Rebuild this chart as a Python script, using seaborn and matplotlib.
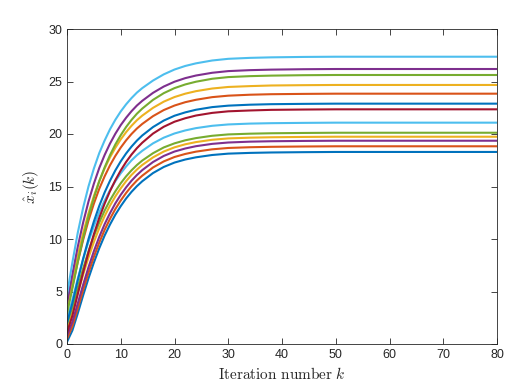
import pandas as pd
import matplotlib
matplotlib.use("Agg")
import matplotlib.pyplot as plt
import seaborn as sns

k_values = [0, 1, 2, 3, 4, 5, 6, 7, 8, 9, 10, 11, 12, 13, 14, 16, 18, 20, 22, 24,
            27, 30, 34, 38, 44, 50, 60, 80]

# Estimated state trajectories x_i(k), one list per agent
x1 = [0.2, 1.29, 2.91, 4.63, 6.26, 7.76, 9.12, 10.33, 11.38, 12.32, 13.13, 13.86, 14.49, 15.03,
      15.5, 16.28, 16.86, 17.28, 17.57, 17.78, 18, 18.13, 18.2, 18.24, 18.27, 18.29, 18.29, 18.29]
x2 = [0.5, 1.69, 3.38, 5.14, 6.79, 8.3, 9.66, 10.87, 11.92, 12.86, 13.67, 14.39, 15.02, 15.57,
      16.03, 16.81, 17.39, 17.81, 18.1, 18.32, 18.54, 18.67, 18.74, 18.78, 18.81, 18.83, 18.83, 18.83]
x3 = [1.5, 2.99, 4.82, 6.6, 8.24, 9.71, 11.03, 12.18, 13.18, 14.06, 14.83, 15.51, 16.1, 16.61,
      17.05, 17.77, 18.33, 18.73, 19.02, 19.23, 19.45, 19.58, 19.65, 19.69, 19.72, 19.74, 19.74, 19.74]
x4 = [0.8, 2.1, 3.86, 5.64, 7.31, 8.84, 10.2, 11.41, 12.46, 13.4, 14.21, 14.92, 15.55, 16.09,
      16.56, 17.33, 17.91, 18.33, 18.62, 18.84, 19.06, 19.19, 19.27, 19.31, 19.34, 19.36, 19.36, 19.36]
x5 = [1.9, 3.51, 5.39, 7.19, 8.83, 10.29, 11.58, 12.71, 13.69, 14.55, 15.31, 15.97, 16.54, 17.04,
      17.47, 18.17, 18.72, 19.11, 19.4, 19.61, 19.83, 19.96, 20.03, 20.07, 20.1, 20.12, 20.12, 20.12]
x6 = [2.4, 4.21, 6.21, 8.07, 9.75, 11.23, 12.54, 13.66, 14.65, 15.51, 16.26, 16.91, 17.49, 17.98,
      18.4, 19.11, 19.65, 20.05, 20.34, 20.56, 20.78, 20.91, 20.99, 21.03, 21.06, 21.08, 21.08, 21.08]
x7 = [1.1, 2.69, 4.76, 6.82, 8.73, 10.46, 12.01, 13.37, 14.56, 15.61, 16.53, 17.34, 18.04, 18.65,
      19.17, 20.04, 20.69, 21.17, 21.5, 21.76, 22.01, 22.16, 22.24, 22.3, 22.33, 22.35, 22.35, 22.35]
x8 = [2, 3.88, 6.05, 8.12, 10, 11.67, 13.15, 14.43, 15.55, 16.54, 17.4, 18.15, 18.8, 19.37,
      19.86, 20.66, 21.28, 21.74, 22.06, 22.31, 22.56, 22.7, 22.79, 22.84, 22.87, 22.89, 22.89, 22.89]
x9 = [3.2, 5.47, 7.81, 9.91, 11.77, 13.37, 14.78, 15.97, 17.02, 17.92, 18.71, 19.4, 20, 20.52,
      20.96, 21.7, 22.28, 22.71, 23.03, 23.26, 23.51, 23.65, 23.74, 23.79, 23.82, 23.84, 23.84, 23.84]
x10 = [3.5, 5.93, 8.38, 10.55, 12.45, 14.09, 15.52, 16.72, 17.78, 18.69, 19.49, 20.18, 20.78, 21.31,
       21.75, 22.49, 23.08, 23.52, 23.84, 24.08, 24.33, 24.48, 24.56, 24.62, 24.65, 24.67, 24.67, 24.67]
x11 = [3.9, 6.61, 9.26, 11.56, 13.57, 15.27, 16.76, 18, 19.09, 20.03, 20.85, 21.55, 22.17, 22.71,
       23.16, 23.92, 24.52, 24.98, 25.32, 25.57, 25.83, 25.99, 26.08, 26.13, 26.17, 26.19, 26.19, 26.19]
x12 = [2.9, 5.29, 7.81, 10.1, 12.15, 13.92, 15.49, 16.82, 17.99, 19.01, 19.89, 20.67, 21.34, 21.93,
       22.42, 23.25, 23.89, 24.37, 24.72, 24.98, 25.26, 25.42, 25.51, 25.56, 25.6, 25.62, 25.62, 25.62]
x13 = [4.7, 7.76, 10.59, 12.97, 15.01, 16.71, 18.18, 19.38, 20.45, 21.36, 22.15, 22.83, 23.42, 23.94,
       24.37, 25.09, 25.68, 26.14, 26.48, 26.73, 27, 27.16, 27.25, 27.3, 27.34, 27.36, 27.36, 27.36]

series = [x1, x2, x3, x4, x5, x6, x7, x8, x9, x10, x11, x12, x13]

x_ticks = [0, 10, 20, 30, 40, 50, 60, 70, 80]
y_ticks = [0, 5, 10, 15, 20, 25, 30]

# MATLAB default colour order
matlab_colors = ["#0072BD", "#D95319", "#EDB120", "#7E2F8E", "#77AC30", "#4DBEEE", "#A2142F"]

rows = []
for i, ys in enumerate(series):
    for k, y in zip(k_values, ys):
        rows.append((i, k, y))
df = pd.DataFrame(rows, columns=["agent", "k", "x"])
palette = [matlab_colors[i % len(matlab_colors)] for i in range(len(series))]

sns.set_style("white")
plt.rcParams["font.family"] = ["Liberation Sans", "DejaVu Sans"]
plt.rcParams["mathtext.fontset"] = "cm"

fig = plt.figure(figsize=(5.18, 3.88), dpi=100)
ax = fig.add_axes([67 / 518, 44 / 388, 430 / 518, 315 / 388])
sns.lineplot(data=df, x="k", y="x", hue="agent", palette=palette, lw=1.5,
             legend=False, ax=ax)

ax.set_xlim(0, 80)
ax.set_ylim(0, 30)
ax.set_xticks(x_ticks)
ax.set_yticks(y_ticks)
for s in ax.spines.values():
    s.set_color("#262626")
    s.set_linewidth(0.6)
ax.tick_params(direction="in", length=4, width=0.6, color="#262626", labelcolor="#262626",
               labelsize=9, top=True, right=True, bottom=True, left=True)
ax.set_xlabel(r"$\mathrm{Iteration\ number}\ k$", fontsize=11, labelpad=4)
ax.set_ylabel(r"$\hat{x}_i(k)$", fontsize=11, labelpad=5)

fig.savefig("out.png")
